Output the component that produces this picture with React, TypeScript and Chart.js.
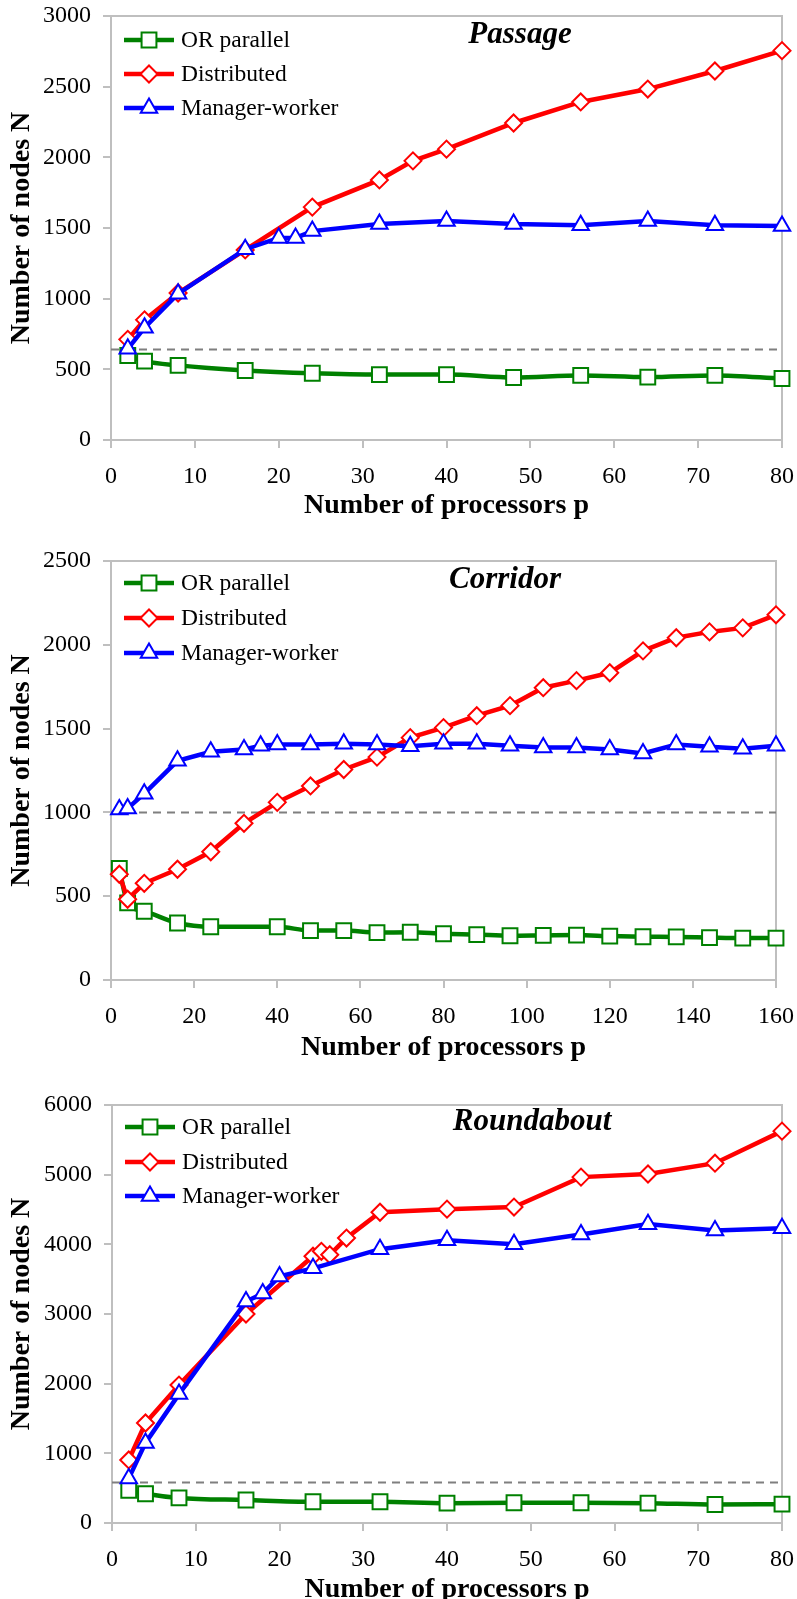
import React, { useEffect, useRef } from 'react';
import { Chart, registerables } from 'chart.js';

Chart.register(...registerables);

// ---------------- data ----------------
const SERIES_NAMES = ['OR parallel', 'Distributed', 'Manager-worker'];
const X_TITLE = 'Number of processors p';
const Y_TITLE = 'Number of nodes N';

// Passage
const passageOrX = [2, 4, 8, 16, 24, 32, 40, 48, 56, 64, 72, 80];
const passageOrY = [598, 558, 528, 492, 472, 463, 463, 442, 457, 445, 457, 435];
const passageDistX = [2, 4, 8, 16, 24, 32, 36, 40, 48, 56, 64, 72, 80];
const passageDistY = [712, 850, 1040, 1345, 1648, 1840, 1975, 2058, 2243, 2392, 2483, 2611, 2755];
const passageMwX = [2, 4, 8, 16, 20, 22, 24, 32, 40, 48, 56, 64, 72, 80];
const passageMwY = [645, 795, 1035, 1350, 1430, 1430, 1478, 1528, 1550, 1528, 1520, 1550, 1520, 1515];
const passageBaseline = 640;

// Corridor
const corridorOrX = [2, 4, 8, 16, 24, 40, 48, 56, 64, 72, 80, 88, 96, 104, 112, 120, 128, 136, 144, 152, 160];
const corridorOrY = [665, 460, 410, 340, 318, 318, 295, 295, 283, 285, 276, 271, 264, 266, 268, 262, 258, 257, 253, 250, 250];
const corridorDistX = [2, 4, 8, 16, 24, 32, 40, 48, 56, 64, 72, 80, 88, 96, 104, 112, 120, 128, 136, 144, 152, 160];
const corridorDistY = [631, 482, 577, 661, 765, 935, 1060, 1158, 1256, 1330, 1446, 1506, 1577, 1637, 1744, 1786, 1833, 1964, 2042, 2077, 2101, 2179];
const corridorMwX = [2, 4, 8, 16, 24, 32, 36, 40, 48, 56, 64, 72, 80, 88, 96, 104, 112, 120, 128, 136, 144, 152, 160];
const corridorMwY = [1018, 1024, 1112, 1308, 1362, 1375, 1398, 1405, 1405, 1410, 1405, 1395, 1410, 1410, 1398, 1387, 1387, 1375, 1352, 1405, 1392, 1380, 1398];
const corridorBaseline = 1000;

// Roundabout
const roundOrX = [2, 4, 8, 16, 24, 32, 40, 48, 56, 64, 72, 80];
const roundOrY = [470, 420, 360, 330, 305, 305, 285, 290, 290, 285, 265, 270];
const roundDistX = [2, 4, 8, 16, 24, 25, 26, 28, 32, 40, 48, 56, 64, 72, 80];
const roundDistY = [905, 1435, 1980, 3000, 3830, 3900, 3850, 4090, 4460, 4505, 4535, 4965, 5010, 5165, 5625];
const roundMwX = [2, 4, 8, 16, 18, 20, 24, 32, 40, 48, 56, 64, 72, 80];
const roundMwY = [640, 1150, 1850, 3180, 3295, 3540, 3655, 3930, 4060, 4000, 4140, 4290, 4200, 4230];
const roundBaseline = 580;

// ---------------- styles ----------------
const FONT = "'Liberation Serif', 'Times New Roman', serif";
const GREEN = '#008000';
const RED = '#ff0000';
const BLUE = '#0000ff';
const AXIS = '#bfbfbf';
const DASH = '#7f7f7f';

const SERIES_STYLE = [
  { color: GREEN, pointStyle: 'rect', radius: 10.5 },
  { color: RED, pointStyle: 'rectRot', radius: 8.5 },
  { color: BLUE, pointStyle: 'triangle', radius: 9.5 },
];

type Panel = {
  title: string;
  xs: number[][];
  ys: number[][];
  baseline: number;
  xMax: number;
  xStep: number;
  yMax: number;
  yStep: number;
  top: number;
  height: number;
  padTop: number;
  padRight: number;
  yWidth: number;
  xHeight: number;
  xTitlePad: number;
  titleX: number;
  titleY: number;
  legendY: number[];
};

const PANELS: Panel[] = [
  {
    title: 'Passage',
    xs: [passageOrX, passageDistX, passageMwX],
    ys: [passageOrY, passageDistY, passageMwY],
    baseline: passageBaseline,
    xMax: 80, xStep: 10, yMax: 3000, yStep: 500,
    top: 0, height: 530, padTop: 16, padRight: 15, yWidth: 111, xHeight: 90, xTitlePad: 7,
    titleX: 520, titleY: 35, legendY: [40, 74, 108],
  },
  {
    title: 'Corridor',
    xs: [corridorOrX, corridorDistX, corridorMwX],
    ys: [corridorOrY, corridorDistY, corridorMwY],
    baseline: corridorBaseline,
    xMax: 160, xStep: 20, yMax: 2500, yStep: 500,
    top: 530, height: 535, padTop: 31, padRight: 21, yWidth: 111, xHeight: 85, xTitlePad: 0,
    titleX: 505, titleY: 50, legendY: [53, 88, 123],
  },
  {
    title: 'Roundabout',
    xs: [roundOrX, roundDistX, roundMwX],
    ys: [roundOrY, roundDistY, roundMwY],
    baseline: roundBaseline,
    xMax: 80, xStep: 10, yMax: 6000, yStep: 1000,
    top: 1065, height: 534, padTop: 40, padRight: 15, yWidth: 112, xHeight: 76, xTitlePad: -8,
    titleX: 532, titleY: 57, legendY: [62, 97, 131],
  },
];

function drawMarker(ctx: CanvasRenderingContext2D, style: string, x: number, y: number, r: number) {
  ctx.beginPath();
  if (style === 'rect') {
    const s = Math.SQRT1_2 * r;
    ctx.rect(x - s, y - s, 2 * s, 2 * s);
  } else if (style === 'rectRot') {
    ctx.moveTo(x - r, y);
    ctx.lineTo(x, y - r);
    ctx.lineTo(x + r, y);
    ctx.lineTo(x, y + r);
    ctx.closePath();
  } else {
    let rad = 0;
    ctx.moveTo(x + Math.sin(rad) * r, y - Math.cos(rad) * r);
    rad += (2 * Math.PI) / 3;
    ctx.lineTo(x + Math.sin(rad) * r, y - Math.cos(rad) * r);
    rad += (2 * Math.PI) / 3;
    ctx.lineTo(x + Math.sin(rad) * r, y - Math.cos(rad) * r);
    ctx.closePath();
  }
  ctx.fillStyle = '#ffffff';
  ctx.fill();
  ctx.stroke();
}

function ChartPanel({ panel }: { panel: Panel }) {
  const ref = useRef<HTMLCanvasElement | null>(null);

  useEffect(() => {
    if (!ref.current) return;

    const framePlugin = {
      id: 'frame',
      beforeDatasetsDraw(chart: any) {
        const { ctx, chartArea } = chart;
        ctx.save();
        ctx.strokeStyle = AXIS;
        ctx.lineWidth = 2;
        ctx.beginPath();
        ctx.moveTo(chartArea.left, chartArea.top);
        ctx.lineTo(chartArea.right, chartArea.top);
        ctx.lineTo(chartArea.right, chartArea.bottom);
        ctx.stroke();
        ctx.restore();
      },
    };

    const overlayPlugin = {
      id: 'overlay',
      afterDatasetsDraw(chart: any) {
        const { ctx, chartArea } = chart;
        ctx.save();
        // title
        ctx.fillStyle = '#000';
        ctx.font = `italic bold 31px ${FONT}`;
        ctx.textAlign = 'center';
        ctx.textBaseline = 'middle';
        ctx.fillText(panel.title, panel.titleX, panel.titleY);
        // legend
        ctx.font = `23.5px ${FONT}`;
        ctx.textAlign = 'left';
        SERIES_NAMES.forEach((name, i) => {
          const st = SERIES_STYLE[i];
          const y = panel.legendY[i];
          const x1 = chartArea.left + 13;
          const x2 = chartArea.left + 63;
          ctx.strokeStyle = st.color;
          ctx.lineWidth = 4.5;
          ctx.beginPath();
          ctx.moveTo(x1, y);
          ctx.lineTo(x2, y);
          ctx.stroke();
          ctx.lineWidth = 2;
          drawMarker(ctx, st.pointStyle, (x1 + x2) / 2, y, st.radius);
          ctx.fillStyle = '#000';
          ctx.fillText(name, chartArea.left + 70, y + 1);
        });
        ctx.restore();
      },
    };

    const seriesOrder = [2, 1, 0];
    const datasets: any[] = SERIES_NAMES.map((name, i) => ({
      label: name,
      data: panel.xs[i].map((x, j) => ({ x, y: panel.ys[i][j] })),
      borderColor: SERIES_STYLE[i].color,
      backgroundColor: SERIES_STYLE[i].color,
      borderWidth: 4.5,
      pointStyle: SERIES_STYLE[i].pointStyle,
      pointRadius: SERIES_STYLE[i].radius,
      pointBorderWidth: 2,
      pointBorderColor: SERIES_STYLE[i].color,
      pointBackgroundColor: '#ffffff',
      tension: i === 0 ? 0.4 : 0,
      cubicInterpolationMode: i === 0 ? 'monotone' : 'default',
      clip: false,
      order: seriesOrder[i],
    }));
    datasets.push({
      label: 'baseline',
      data: [
        { x: 0, y: panel.baseline },
        { x: panel.xMax, y: panel.baseline },
      ],
      borderColor: DASH,
      borderWidth: 2,
      borderDash: [8, 6],
      pointRadius: 0,
      clip: false,
      order: 3,
    });

    const tickFont = { family: FONT, size: 24 };
    const titleFont = { family: FONT, size: 28, weight: 'bold' as const, lineHeight: 1.2 };
    const plain = (v: any) => String(v);

    const chart = new Chart(ref.current, {
      type: 'line',
      data: { datasets },
      plugins: [framePlugin, overlayPlugin],
      options: {
        responsive: false,
        animation: false,
        devicePixelRatio: 1,
        layout: {
          autoPadding: false,
          padding: { top: panel.padTop, right: panel.padRight, left: 0, bottom: 0 },
        },
        plugins: {
          legend: { display: false },
          tooltip: { enabled: false },
          title: { display: false },
        },
        scales: {
          x: {
            type: 'linear',
            min: 0,
            max: panel.xMax,
            ticks: {
              stepSize: panel.xStep,
              font: tickFont,
              color: '#000',
              padding: 14,
              maxRotation: 0,
              autoSkip: false,
              callback: plain,
            },
            grid: {
              display: true,
              drawOnChartArea: false,
              drawTicks: true,
              tickLength: 8,
              color: AXIS,
              lineWidth: 2,
            },
            border: { display: true, color: AXIS, width: 2 },
            title: {
              display: true,
              text: X_TITLE,
              font: titleFont,
              color: '#000',
              padding: { top: 0, bottom: panel.xTitlePad },
            },
            afterFit: (s: any) => {
              s.height = panel.xHeight;
              s.paddingLeft = 0;
              s.paddingRight = 0;
              s.paddingTop = 0;
              s.paddingBottom = 0;
            },
          },
          y: {
            type: 'linear',
            min: 0,
            max: panel.yMax,
            ticks: {
              stepSize: panel.yStep,
              font: tickFont,
              color: '#000',
              padding: 12,
              callback: plain,
            },
            grid: {
              display: true,
              drawOnChartArea: false,
              drawTicks: true,
              tickLength: 8,
              color: AXIS,
              lineWidth: 2,
            },
            border: { display: true, color: AXIS, width: 2 },
            title: {
              display: true,
              text: Y_TITLE,
              font: titleFont,
              color: '#000',
              padding: { top: 5, bottom: 0 },
            },
            afterFit: (s: any) => {
              s.width = panel.yWidth;
              s.paddingLeft = 0;
              s.paddingRight = 0;
              s.paddingTop = 0;
              s.paddingBottom = 0;
            },
          },
        },
      } as any,
    });

    return () => chart.destroy();
  }, [panel]);

  return (
    <canvas
      ref={ref}
      width={797}
      height={panel.height}
      style={{ position: 'absolute', left: 0, top: panel.top, width: 797, height: panel.height, display: 'block' }}
    />
  );
}

export default function App() {
  return (
    <div
      style={{
        position: 'absolute',
        left: 0,
        top: 0,
        width: 797,
        height: 1599,
        overflow: 'hidden',
        background: '#ffffff',
      }}
    >
      {PANELS.map((p) => (
        <ChartPanel key={p.title} panel={p} />
      ))}
    </div>
  );
}
